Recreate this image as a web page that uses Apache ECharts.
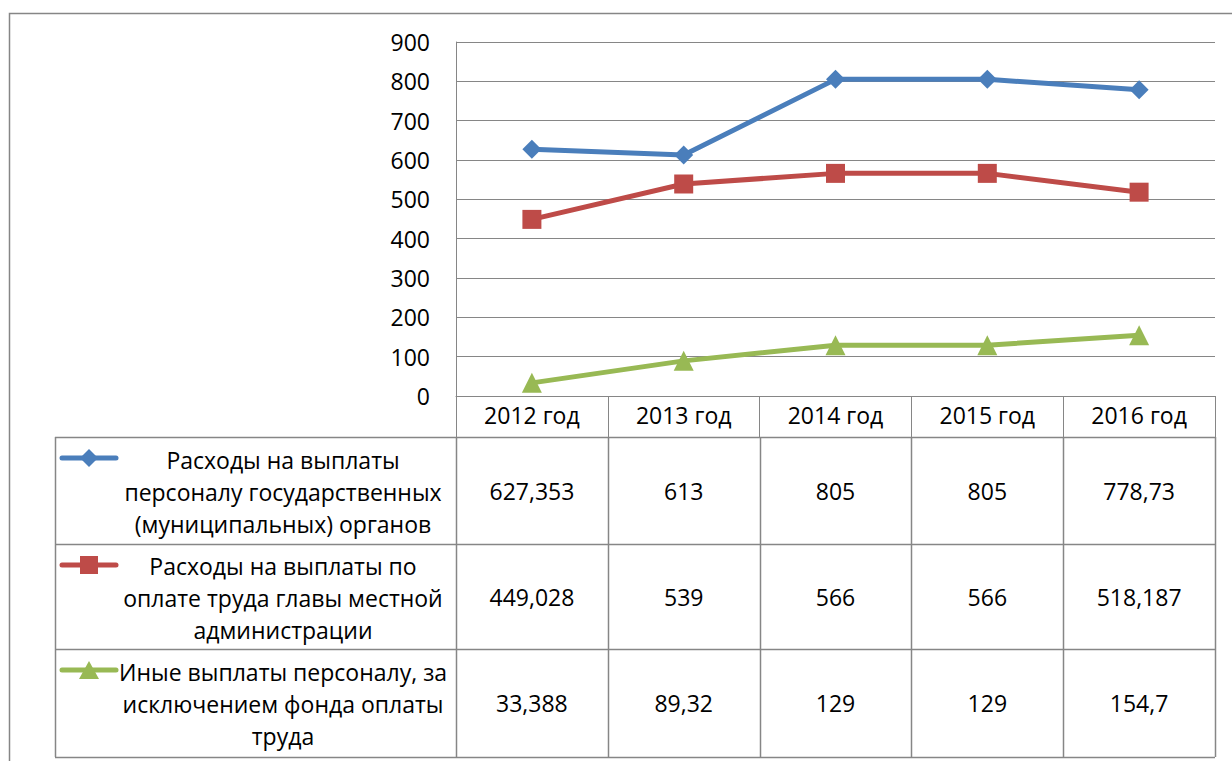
<!DOCTYPE html>
<html><head><meta charset="utf-8">
<script src="https://cdn.jsdelivr.net/npm/echarts@6/dist/echarts.min.js"></script>
<style>html,body{margin:0;padding:0;background:#fff}#c{width:1232px;height:761px}</style>
</head><body><div id="c"></div>
<script>
const categories = ['2012 год', '2013 год', '2014 год', '2015 год', '2016 год'];
const seriesNames = [
  'Расходы на выплаты\nперсоналу государственных\n(муниципальных) органов',
  'Расходы на выплаты по\nоплате труда главы местной\nадминистрации',
  'Иные выплаты персоналу, за\nисключением фонда оплаты\nтруда'
];
const staffPay = [627.353, 613, 805, 805, 778.73];
const headPay = [449.028, 539, 566, 566, 518.187];
const otherPay = [33.388, 89.32, 129, 129, 154.7];
const yMin = 0, yMax = 900, yStep = 100;

const colors = ['#4A7EBB', '#BE4B48', '#98B954'];
const symbols = ['diamond', 'rect', 'triangle'];
const symbolSizes = [19, 19, 20];
const allSeries = [staffPay, headPay, otherPay];
const FONT = 'Open Sans';
const FS = 23;
const GRID = '#868686';

const chart = echarts.init(document.getElementById('c'), null, {renderer: 'svg'});
const option = {
  animation: false,
  backgroundColor: '#fff',
  textStyle: {fontFamily: FONT},
  grid: {left: 456, right: 17, top: 42, bottom: 365},
  xAxis: {
    type: 'category', data: categories, boundaryGap: true,
    axisLine: {show: true, lineStyle: {color: GRID, width: 1}},
    axisTick: {show: true, interval: 0, length: 41, lineStyle: {color: GRID}},
    axisLabel: {interval: 0, color: '#000', fontSize: FS, fontFamily: FONT, margin: 7}
  },
  yAxis: {
    type: 'value', min: yMin, max: yMax, interval: yStep,
    axisLine: {show: true, lineStyle: {color: GRID, width: 1}},
    axisTick: {show: false},
    splitLine: {lineStyle: {color: GRID, width: 1}},
    axisLabel: {color: '#000', fontSize: FS, fontFamily: FONT, margin: 26}
  },
  series: allSeries.map((d, i) => ({
    type: 'line', data: d, name: seriesNames[i],
    symbol: symbols[i], symbolSize: symbolSizes[i], showAllSymbol: true,
    lineStyle: {color: colors[i], width: 5},
    itemStyle: {color: colors[i]}
  }))
};
chart.setOption(option);

// Data table below the plot
const tableLeft = 55, rowTops = [437, 544, 649, 757];
const xs = categories.map((c, i) => chart.convertToPixel({xAxisIndex: 0}, i));
const band = xs.length > 1 ? xs[1] - xs[0] : 150;
const bounds = xs.map(x => x - band / 2).concat([xs[xs.length - 1] + band / 2]);
const fmt = v => String(v).replace('.', ',');
const font = FS + 'px "' + FONT + '"';
const g = [];
// outer chart frame
g.push({type: 'rect', shape: {x: 9.5, y: 13.5, width: 1300, height: 800}, style: {fill: null, stroke: GRID, lineWidth: 1.5}, silent: true});
rowTops.forEach(y => g.push({type: 'line', shape: {x1: tableLeft, y1: y + 0.5, x2: bounds[bounds.length - 1], y2: y + 0.5}, style: {stroke: GRID, lineWidth: 1.5}}));
g.push({type: 'line', shape: {x1: tableLeft + 0.5, y1: rowTops[0], x2: tableLeft + 0.5, y2: rowTops[3]}, style: {stroke: GRID, lineWidth: 1.5}});
bounds.forEach(x => g.push({type: 'line', shape: {x1: Math.round(x) + 0.5, y1: rowTops[0], x2: Math.round(x) + 0.5, y2: rowTops[3]}, style: {stroke: GRID, lineWidth: 1.5}}));
allSeries.forEach((d, r) => {
  const top = rowTops[r], bot = rowTops[r + 1], cy = (top + bot) / 2;
  d.forEach((v, i) => g.push({type: 'text', x: xs[i], y: cy, style: {text: fmt(v), fill: '#000', font: font, align: 'center', verticalAlign: 'middle'}}));
  // legend key
  const ky = top + 21;
  g.push({type: 'line', shape: {x1: 62, y1: ky, x2: 116, y2: ky}, style: {stroke: colors[r], lineWidth: 5, lineCap: 'round'}});
  if (symbols[r] === 'diamond') {
    g.push({type: 'polygon', shape: {points: [[89, ky - 9], [98, ky], [89, ky + 9], [80, ky]]}, style: {fill: colors[r]}});
  } else if (symbols[r] === 'rect') {
    g.push({type: 'rect', shape: {x: 80, y: ky - 9, width: 18, height: 18}, style: {fill: colors[r]}});
  } else {
    g.push({type: 'polygon', shape: {points: [[89, ky - 9], [99, ky + 9], [79, ky + 9]]}, style: {fill: colors[r]}});
  }
  g.push({type: 'text', x: 283, y: cy + 1, style: {text: seriesNames[r], fill: '#000', font: font, align: 'center', verticalAlign: 'middle', lineHeight: 32}});
});
chart.setOption({graphic: {elements: g}});
</script></body></html>
